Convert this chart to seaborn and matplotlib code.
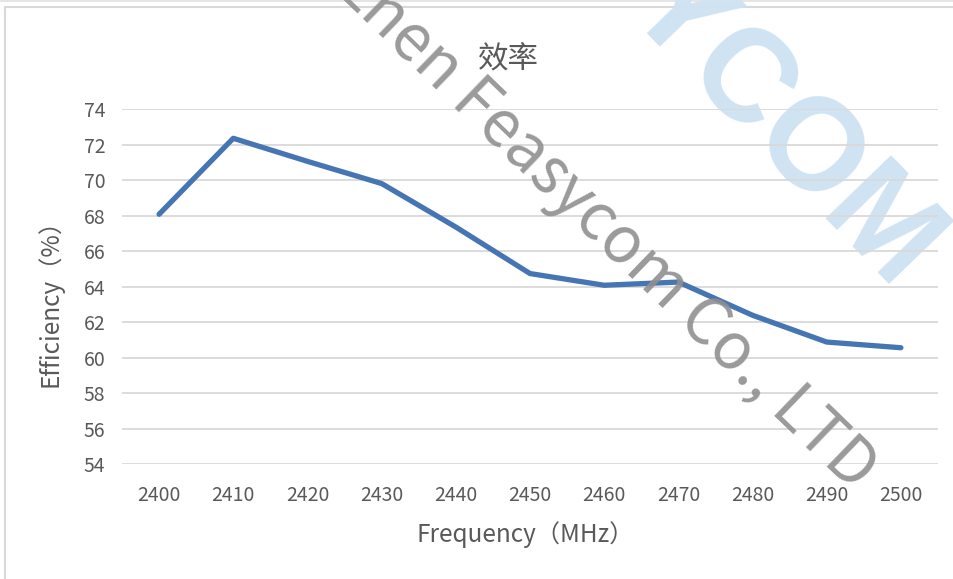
import matplotlib
matplotlib.use("Agg")
import matplotlib.pyplot as plt
import seaborn as sns
from matplotlib.patches import Rectangle

# data
freq = [2400, 2410, 2420, 2430, 2440, 2450, 2460, 2470, 2480, 2490, 2500]
efficiency = [68.07, 72.35, 71.05, 69.8, 67.35, 64.73, 64.07, 64.25, 62.38, 60.87, 60.55]
yticks = [54, 56, 58, 60, 62, 64, 66, 68, 70, 72, 74]

sns.set_style("white")
plt.rcParams['font.family'] = ['Noto Sans CJK SC', 'DejaVu Sans']

W, H = 954, 579
fig = plt.figure(figsize=(W / 100, H / 100), dpi=100, facecolor='white')
ax = fig.add_axes([122 / W, 1 - 464 / H, (938 - 122) / W, (464 - 109) / H])
ax.set_facecolor('none')

# light gray chart frame
fig.patches.append(Rectangle((5 / W, -0.05), 1.1, 1 - 7 / H + 0.05, transform=fig.transFigure,
                             fill=False, edgecolor='#d9d9d9', linewidth=1.5, zorder=-2))
fig.add_artist(plt.Line2D([0, 1], [1 - 1 / H, 1 - 1 / H], transform=fig.transFigure,
                          color='#e0e0e0', linewidth=1.2, zorder=-2))

# background logo watermark
fig.text(660 / W, 1 - 6 / H, 'FEASYCOM', fontsize=94, fontweight='bold', color='#d0e3f2',
         rotation=-46, rotation_mode='anchor', ha='center', va='center', zorder=-1,
         family=['Liberation Sans'])

sns.lineplot(x=freq, y=efficiency, ax=ax, color='#4675b3', linewidth=3.8, zorder=3)

ax.set_xlim(2395, 2505)
ax.set_ylim(54, 74)
ax.set_xticks(freq)
ax.set_yticks(yticks)
ax.grid(axis='y', color='#d9d9d9', linewidth=1.3)
ax.grid(axis='x', visible=False)
for s in ax.spines.values():
    s.set_visible(False)
ax.tick_params(axis='y', length=0, pad=12, labelsize=14, labelcolor='#595959')
ax.tick_params(axis='x', length=0, pad=15, labelsize=14, labelcolor='#595959')

ax.set_xlabel('Frequency（MHz）', fontsize=17.5, color='#595959')
ax.set_ylabel('Efficiency（%）', fontsize=17.5, color='#595959')
ax.xaxis.set_label_coords(0.494, -0.162)
ax.yaxis.set_label_coords(-0.072, 0.47)

fig.text(508 / W, 1 - 60 / H, '效率', fontsize=22, color='#595959', fontweight='light',
         ha='center', va='center')

# company watermark on top
fig.text(853 / W, 1 - 492 / H, 'Shenzhen Feasycom Co., LTD', fontsize=46, color='#8f8f8f',
         rotation=-44, rotation_mode='anchor', ha='right', va='baseline', zorder=10,
         fontweight='light', alpha=0.9)

fig.savefig('out.png', dpi=100, facecolor='white')
